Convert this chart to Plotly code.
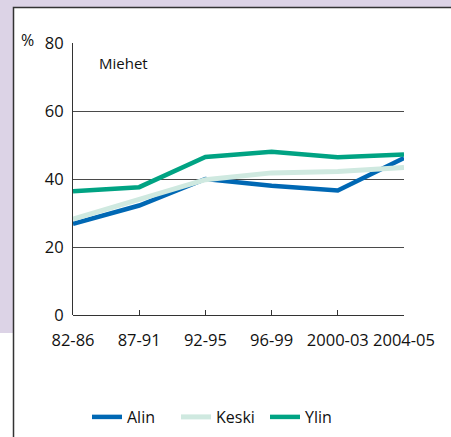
import plotly.graph_objects as go

categories = ["82-86", "87-91", "92-95", "96-99", "2000-03", "2004-05"]
alin = [26.8, 32.2, 40.0, 38.0, 36.6, 46.2]
keski = [28.2, 34.0, 39.8, 41.8, 42.2, 43.4]
ylin = [36.4, 37.6, 46.5, 48.0, 46.4, 47.2]
series_names = ["Alin", "Keski", "Ylin"]
series_colors = ["#0068b4", "#cfe9e0", "#00a383"]

W, H = 451, 437
L, R, T, B = 73, 404, 43, 315

def px_x(p):
    return (p - L) / (R - L)

def px_y(p):
    return (B - p) / (B - T)

FONT = "Open Sans"

fig = go.Figure()
xs = list(range(len(categories)))
for name, vals, col, w in zip(series_names, [alin, keski, ylin], series_colors, [4.5, 5, 4.5]):
    fig.add_trace(go.Scatter(x=xs, y=vals, mode="lines", name=name,
                             line=dict(color=col, width=w), hoverinfo="skip"))

shapes = [
    dict(type="rect", xref="paper", yref="paper", layer="below",
         x0=px_x(-5), x1=px_x(W + 5), y0=px_y(333), y1=px_y(-5),
         fillcolor="#dcd3e6", line=dict(width=0)),
    dict(type="rect", xref="paper", yref="paper", layer="below",
         x0=px_x(13.5), x1=px_x(W + 20), y0=px_y(H + 20), y1=px_y(7.5),
         fillcolor="white", line=dict(color="#333333", width=1.5)),
]

fig.update_layout(
    width=W, height=H,
    margin=dict(l=L, r=W - R, t=T, b=H - B, pad=0, autoexpand=False),
    paper_bgcolor="white", plot_bgcolor="rgba(0,0,0,0)",
    font=dict(family=FONT, size=16, color="#111111"),
    shapes=shapes,
    showlegend=True,
    legend=dict(orientation="h", x=px_x(87), xanchor="left", y=px_y(417), yanchor="middle",
                font=dict(size=16, family=FONT), bgcolor="rgba(0,0,0,0)",
                entrywidth=44, entrywidthmode="pixels", tracegroupgap=0),
    xaxis=dict(range=[0, 5], tickvals=xs, ticktext=categories, showgrid=False,
               zeroline=False, showline=False, ticks="inside", ticklen=5,
               tickcolor="#333333", tickwidth=1, tickfont=dict(size=16.5),
               ticklabelstandoff=13, automargin=False),
    yaxis=dict(range=[0, 80], tickvals=[0, 20, 40, 60, 80], showgrid=True,
               gridcolor="#4a4a4a", gridwidth=1, zeroline=True, zerolinecolor="#333333",
               zerolinewidth=1, showline=True, linecolor="#333333", linewidth=1,
               ticks="", ticklabelstandoff=5, tickfont=dict(size=16.5), automargin=False),
    annotations=[
        dict(text="%", xref="paper", yref="paper", x=px_x(27), y=px_y(40),
             showarrow=False, font=dict(size=16), xanchor="center", yanchor="middle"),
        dict(text="Miehet", xref="paper", yref="paper", x=px_x(97), y=px_y(63),
             showarrow=False, font=dict(size=15), xanchor="left", yanchor="middle"),
    ],
)
fig.write_html("out.html", config={"displayModeBar": False, "staticPlot": True})

with open("out.html", "r", encoding="utf-8") as f:
    html = f.read()
html = html.replace("<head>", "<head><style>html,body{margin:0;padding:0;overflow:hidden;}</style>", 1)
with open("out.html", "w", encoding="utf-8") as f:
    f.write(html)
